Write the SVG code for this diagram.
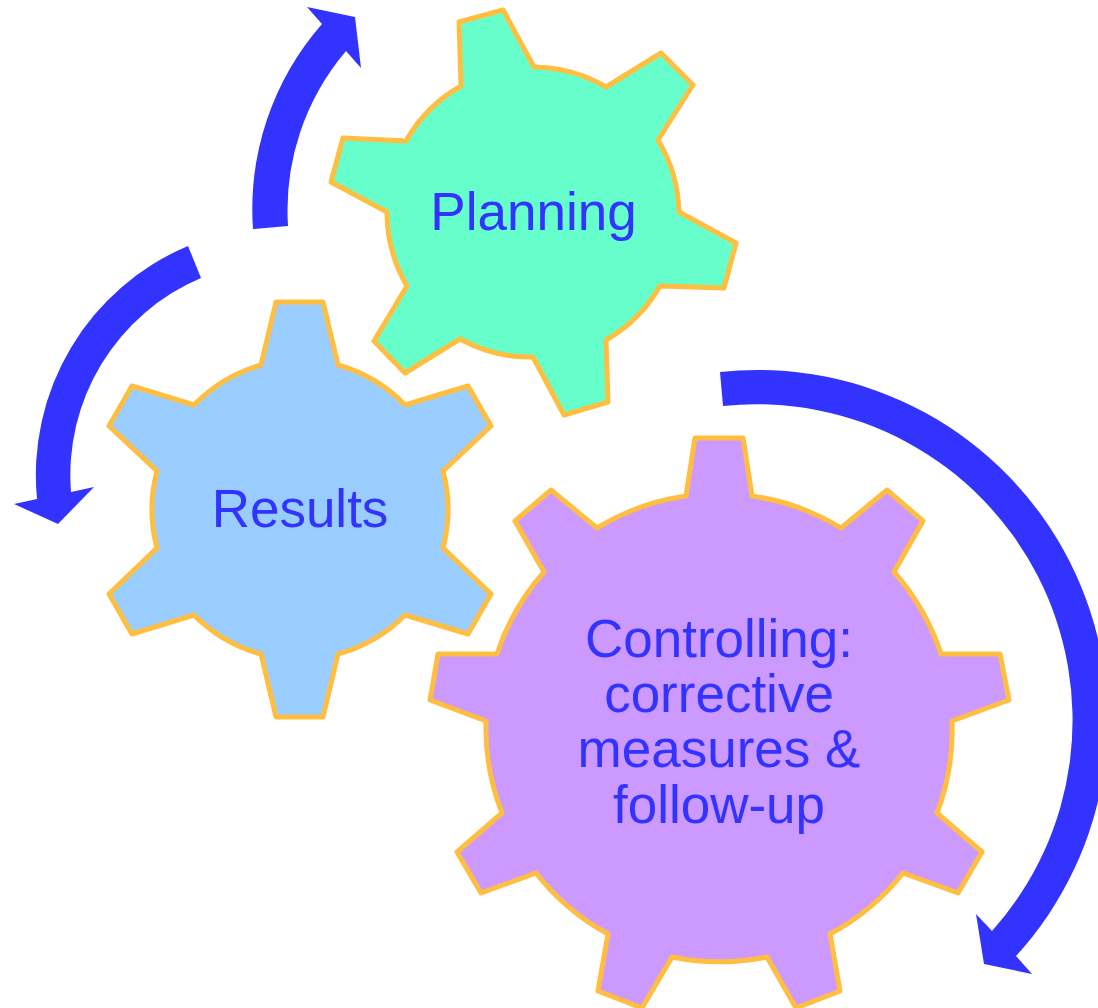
<svg xmlns="http://www.w3.org/2000/svg" width="1098" height="1008" viewBox="0 0 1098 1008">
<style>
.gear{stroke:#FFBE40;stroke-width:5;stroke-linejoin:round}
.arrow{fill:#3333FF}
text{font-family:"Liberation Sans",Arial,sans-serif;font-size:53px;fill:#3333FF;text-anchor:middle}
</style>
<rect width="1098" height="1008" fill="#FFFFFF"/>
<g id="connectors">
<path class="arrow" d="M253 229A281 281 0 0 1 322 24L307 7L355 17L361 68L346 51A246 246 0 0 0 288 226Z"/>
<path class="arrow" d="M188 246A248.500 248.500 0 0 0 37 499L14 504L58 524L94 487L71 492A214 214 0 0 1 201 278Z"/>
<path class="arrow" d="M720 372A350 350 0 0 1 1016 956L1032 974L984 964L976 914L992 931A316 316 0 0 0 723 406Z"/>
</g>
<g id="planning">
<path class="gear" fill="#66FFCC" d="M459 22L503 10L534 67A146 146 0 0 1 606 87L661 53L693 85L658 140A146 146 0 0 1 679 212L736 243L724 288L660 286A146 146 0 0 1 606 340L608 402L564 415L533 357A146 146 0 0 1 460 339L405 373L374 341L407 286A146 146 0 0 1 387 212L331 182L343 138L406 141A146 146 0 0 1 461 86Z"/>
<text x="533.500" y="229.500">Planning</text>
</g>
<g id="results">
<path class="gear" fill="#99CCFF" d="M276 302L323 302L338 365A150 150 0 0 1 405 405L468 386L491 426L443 471A150 150 0 0 1 443 548L491 594L468 634L405 615A150 150 0 0 1 338 654L323 717L276 717L261 654A150 150 0 0 1 194 615L132 634L109 594L157 548A150 150 0 0 1 157 471L109 426L132 386L194 405A150 150 0 0 1 261 365Z"/>
<text x="300" y="526.500">Results</text>
</g>
<g id="controlling">
<path class="gear" fill="#CC99FF" d="M695 438L743 438L752 496A234 234 0 0 1 841 528L887 490L923 521L894 572A234 234 0 0 1 941 654L1000 654L1009 700L952 721A234 234 0 0 1 937 813L982 852L958 893L903 873A234 234 0 0 1 830 934L840 991L796 1008L767 957A240 240 0 0 1 672 957L642 1008L598 991L608 934A234 234 0 0 1 536 873L481 893L457 852L502 813A234 234 0 0 1 486 721L430 700L438 654L497 654A234 234 0 0 1 544 572L515 521L551 490L597 528A234 234 0 0 1 686 496Z"/>
<text x="719" y="657">Controlling:</text>
<text x="719" y="712">corrective</text>
<text x="719" y="767">measures &amp;</text>
<text x="719" y="822.500">follow-up</text>
</g>
</svg>
